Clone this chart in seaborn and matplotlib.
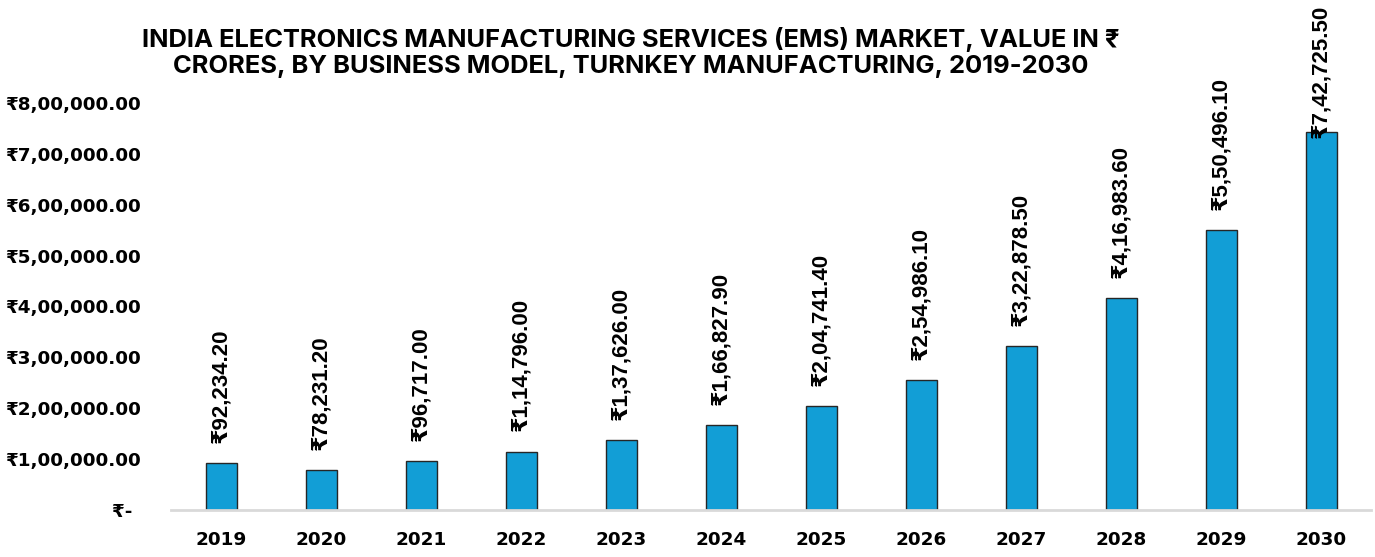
import matplotlib
matplotlib.use("Agg")
import matplotlib.pyplot as plt
import seaborn as sns
import pandas as pd
from matplotlib.ticker import FuncFormatter, MultipleLocator

# Turnkey manufacturing EMS market value, ₹ crores
years = ["2019", "2020", "2021", "2022", "2023", "2024",
         "2025", "2026", "2027", "2028", "2029", "2030"]
values = [92234.20, 78231.20, 96717.00, 114796.00, 137626.00, 166827.90,
          204741.40, 254986.10, 322878.50, 416983.60, 550496.10, 742725.50]

title_lines = [
    "INDIA ELECTRONICS MANUFACTURING SERVICES (EMS) MARKET, VALUE IN ₹",
    "CRORES, BY BUSINESS MODEL, TURNKEY MANUFACTURING, 2019-2030",
]

BAR_COLOR = "#129ED6"
AXIS_FONT = ["DejaVu Sans"]
LABEL_FONT = ["Liberation Sans", "DejaVu Sans"]
TITLE_FONT = ["Inter", "DejaVu Sans"]


def inr(v):
    """Format a number with Indian digit grouping and a rupee sign."""
    if v == 0:
        return "₹-\u2002"
    ip, dp = f"{v:.2f}".split(".")
    last3, rest = ip[-3:], ip[:-3]
    groups = []
    while len(rest) > 2:
        groups.insert(0, rest[-2:])
        rest = rest[:-2]
    if rest:
        groups.insert(0, rest)
    return "₹" + ",".join(groups + [last3]) + "." + dp


sns.set_theme(style="white")
plt.rcParams["font.family"] = AXIS_FONT

df = pd.DataFrame({"year": years, "value": values})

fig = plt.figure(figsize=(13.75, 5.57), dpi=100)
ax = fig.add_axes([0.1244, 0.0844, 0.8727, 0.7307])

sns.barplot(data=df, x="year", y="value", color=BAR_COLOR, width=0.31,
            edgecolor="#262626", linewidth=1.0, saturation=1, ax=ax)

ax.set_ylim(0, 800000)
ax.set_xlim(-0.5, len(years) - 0.5)
ax.yaxis.set_major_locator(MultipleLocator(100000))
ax.yaxis.set_major_formatter(FuncFormatter(lambda v, _: inr(v)))
ax.set_xlabel("")
ax.set_ylabel("")
ax.tick_params(axis="y", length=0, pad=21.5, labelsize=13.2)
ax.tick_params(axis="x", length=0, pad=15, labelsize=13.2)
for lab in ax.get_yticklabels() + ax.get_xticklabels():
    lab.set_fontweight("bold")
    lab.set_color("black")

for side in ["top", "right", "left"]:
    ax.spines[side].set_visible(False)
ax.spines["bottom"].set_color("#D9D9D9")
ax.spines["bottom"].set_linewidth(2)
ax.grid(False)

# Vertical value labels above each bar
labels = []
for i, v in enumerate(values):
    t = ax.annotate(inr(v), xy=(i, v), xytext=(0, 14.5), textcoords="offset points",
                    rotation=90, ha="center", va="bottom", fontsize=16,
                    fontweight="bold", family=LABEL_FONT, color="black",
                    annotation_clip=False)
    labels.append(t)

# Labels that would run off the top are pushed down into their bar
fig.canvas.draw()
renderer = fig.canvas.get_renderer()
fig_top = fig.bbox.height - 5
for t in labels:
    bb = t.get_window_extent(renderer)
    if bb.y1 > fig_top:
        shift = (bb.y1 - fig_top) * 72 / fig.dpi
        x0, y0 = t.xyann
        t.xyann = (x0, y0 - shift)

fig.text(0.459, 0.906, "\n".join(title_lines), ha="center", va="center",
         fontsize=18.4, fontweight="bold", family=TITLE_FONT, color="black",
         linespacing=1.18)

fig.savefig("out.png", dpi=100)
